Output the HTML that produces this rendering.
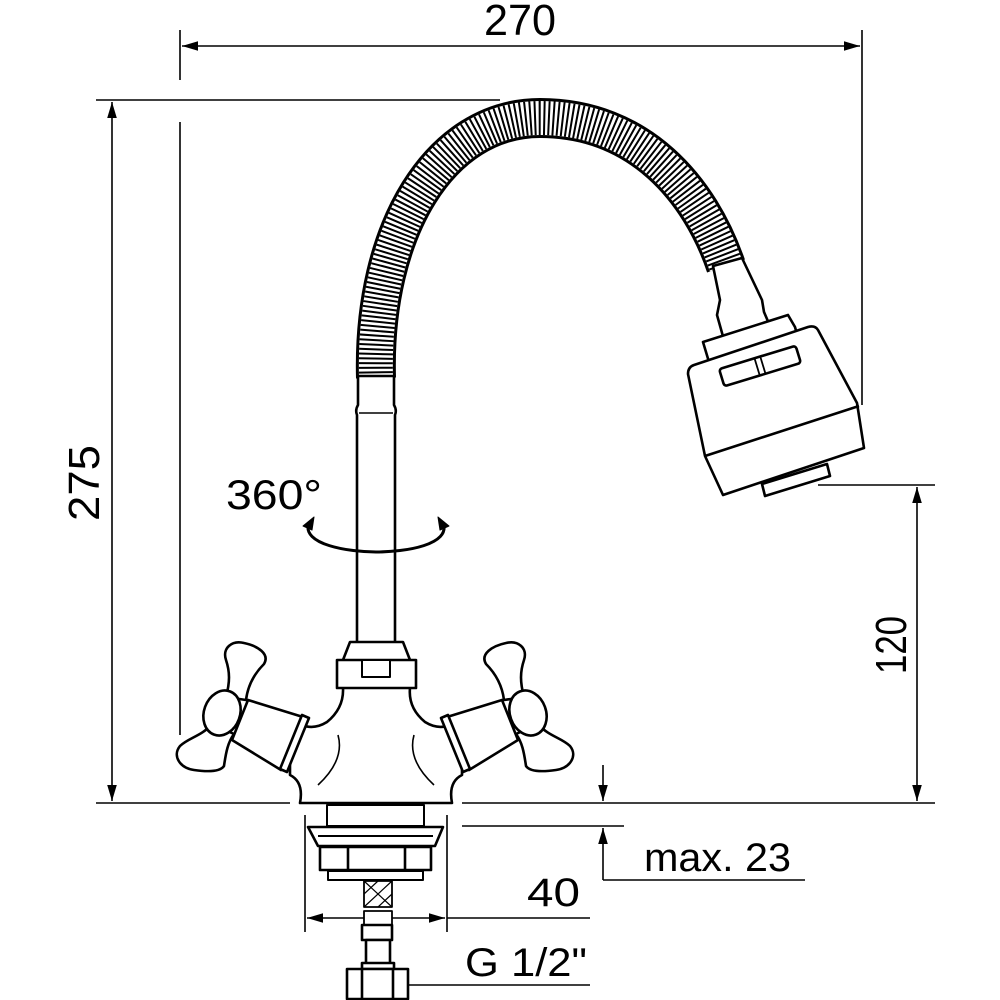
<!DOCTYPE html>
<html><head><meta charset="utf-8"><style>
html,body{margin:0;padding:0;background:#fff;}
svg{display:block;}
text{font-family:"Liberation Sans Narrow","Liberation Sans",sans-serif;fill:#000;font-weight:300;}
</style></head><body>
<svg width="1000" height="1000" viewBox="0 0 1000 1000" xmlns="http://www.w3.org/2000/svg">
<defs>
<marker id="ar2" viewBox="0 0 10 10" refX="10" refY="5" markerWidth="16" markerHeight="16" markerUnits="userSpaceOnUse" orient="auto-start-reverse">
<path d="M0,2 L10,5 L0,8 Z" fill="#000"/></marker>
</defs>
<g stroke="#000" fill="none" stroke-width="1.6">
<line x1="180" y1="30" x2="180" y2="80"/>
<line x1="862" y1="30" x2="862" y2="405"/>
<line x1="182" y1="46" x2="860" y2="46" marker-start="url(#ar2)" marker-end="url(#ar2)"/>
<line x1="96" y1="100" x2="500" y2="100"/>
<line x1="112" y1="102" x2="112" y2="801" marker-start="url(#ar2)" marker-end="url(#ar2)"/>
<line x1="180" y1="122" x2="180" y2="735"/>
<line x1="96" y1="803" x2="290" y2="803"/>
<line x1="462" y1="803" x2="935" y2="803"/>
<line x1="818" y1="485" x2="935" y2="485"/>
<line x1="917" y1="487" x2="917" y2="801" marker-start="url(#ar2)" marker-end="url(#ar2)"/>
<line x1="462" y1="826" x2="624" y2="826"/>
<line x1="603" y1="765" x2="603" y2="801" marker-end="url(#ar2)"/>
<line x1="603" y1="880" x2="603" y2="828" marker-end="url(#ar2)"/>
<line x1="603" y1="880" x2="805" y2="880"/>
<line x1="305" y1="815" x2="305" y2="932"/>
<line x1="447" y1="815" x2="447" y2="932"/>
<line x1="307" y1="918" x2="445" y2="918" marker-start="url(#ar2)" marker-end="url(#ar2)"/>
<line x1="447" y1="918" x2="590" y2="918"/>
<line x1="408" y1="985" x2="590" y2="985"/>
</g>
<g fill="none">
<path d="M376,378 C372,230 440,118 540,118 C640,118 700,190 726,266" stroke="#000" stroke-width="40"/>
<path d="M376,378 C372,230 440,118 540,118 C640,118 700,190 726,266" stroke="#fff" stroke-width="34"/>
<path d="M376,378 C372,230 440,118 540,118 C640,118 700,190 726,266" stroke="#000" stroke-width="34" stroke-dasharray="2 2.6"/>
</g>
<g stroke="#000" stroke-width="2.6" fill="#fff" stroke-linejoin="round">
<path d="M358,376 L358,405 Q355,410 357,415 L357,645 L395,645 L395,415 Q397,410 394,405 L394,376 Z"/>
<line x1="359" y1="413" x2="393" y2="413" stroke-width="1.5"/>
<path d="M309,522 C300,545 350,552 376,552 C405,552 452,545 443,522" fill="none" stroke-width="3"/>
<path d="M303,526 L314,517 L312,530 Z" fill="#000" stroke-width="1"/>
<path d="M449,526 L438,517 L440,530 Z" fill="#000" stroke-width="1"/>
<path d="M713,266 L720,300 L717,315 L724,340 L770,326 L764,312 L762,300 L742,258 Z"/>
<path d="M703,342 L788,315 L795,327 L800,345 L712,372 Z"/>
<path d="M762,484 L827,464 L830,476 L765,496 Z"/>
<path d="M694,365 L808,327 Q815,325 818,330 L857,403 L864,448 L723,495 L705,456 L688,374 Q688,367 694,365 Z"/>
<line x1="705" y1="456" x2="859" y2="406"/>
<g transform="translate(760,366) rotate(-17)">
<rect x="-40" y="-9" width="80" height="18" rx="3"/>
<line x1="-3" y1="-9" x2="-3" y2="9" stroke-width="1.8"/>
<line x1="3" y1="-9" x2="3" y2="9" stroke-width="1.8"/>
</g>
<path d="M343,660 L350,642 L403,642 L410,660 L410,688 Q408,708 425,722 Q438,730 450,725 L462,760 L462,775 Q448,782 452,803 L300,803 Q304,782 290,775 L290,760 L302,725 Q314,730 327,722 Q344,708 343,688 Z"/>
<rect x="337" y="660" width="79" height="28"/>
<rect x="362" y="660" width="28" height="17" stroke-width="2"/>
<path d="M338,735 Q345,760 318,785" fill="none" stroke-width="1.6"/>
<path d="M414,735 Q407,760 434,785" fill="none" stroke-width="1.6"/>
<!-- left handle -->
<path d="M248,700 L303,717 L281,770 L232,740 Z"/>
<path d="M302,715 L309,718 L287,772 L280,769 Z"/>
<path d="M226,697 C230,682 230,672 226,660 C222,648 232,640 244,643 C258,646 270,654 264,664 C256,672 248,684 246,700 Z"/>
<path d="M212,724 C202,736 188,738 180,746 C172,756 180,768 194,770 C208,772 220,772 224,766 C226,752 228,742 234,734 Z"/>
<ellipse cx="222" cy="713" rx="18" ry="23" transform="rotate(20 222 713)"/>
<!-- right handle -->
<path d="M502,700 L447,717 L469,770 L518,740 Z"/>
<path d="M448,715 L441,718 L463,772 L470,769 Z"/>
<path d="M524,697 C520,682 520,672 524,660 C528,648 518,640 506,643 C492,646 480,654 486,664 C494,672 502,684 504,700 Z"/>
<path d="M538,724 C548,736 562,738 570,746 C578,756 570,768 556,770 C542,772 530,772 526,766 C524,752 522,742 516,734 Z"/>
<ellipse cx="528" cy="713" rx="18" ry="23" transform="rotate(-20 528 713)"/>
<rect x="327" y="805" width="97" height="21" stroke-width="2"/>
<path d="M308,827 L443,827 L435,846 L318,846 Z"/>
<line x1="318" y1="836" x2="433" y2="836" stroke-width="2"/>
<rect x="320" y="847" width="111" height="23"/>
<line x1="348" y1="847" x2="348" y2="870"/>
<line x1="405" y1="847" x2="405" y2="870"/>
<rect x="328" y="871" width="95" height="9" stroke-width="2"/>
<rect x="364" y="881" width="28" height="26" stroke-width="1.8"/>
<path d="M364,881 L392,907 M392,881 L364,907 M364,894 L378,881 M378,907 L392,894" fill="none" stroke-width="1.2"/>
<rect x="364" y="911" width="28" height="14" stroke-width="1.8"/>
<rect x="362" y="925" width="30" height="15"/>
<rect x="366" y="940" width="24" height="24"/>
<rect x="362" y="963" width="32" height="6"/>
<rect x="347" y="969" width="61" height="30"/>
<line x1="362" y1="969" x2="362" y2="999"/>
<line x1="393" y1="969" x2="393" y2="999"/>
</g>
<text x="520" y="35" font-size="44" text-anchor="middle" textLength="72" lengthAdjust="spacingAndGlyphs">270</text>
<text transform="translate(99,483) rotate(-90)" font-size="44" text-anchor="middle" textLength="76" lengthAdjust="spacingAndGlyphs">275</text>
<text transform="translate(906,645) rotate(-90)" font-size="44" text-anchor="middle" textLength="58" lengthAdjust="spacingAndGlyphs">120</text>
<text x="226" y="509" font-size="42" textLength="96" lengthAdjust="spacingAndGlyphs">360°</text>
<text x="644" y="871" font-size="40" textLength="147" lengthAdjust="spacingAndGlyphs">max. 23</text>
<text x="527" y="906" font-size="40" textLength="53" lengthAdjust="spacingAndGlyphs">40</text>
<text x="465" y="976" font-size="40" textLength="122" lengthAdjust="spacingAndGlyphs">G 1/2"</text>
</svg>
</body></html>
